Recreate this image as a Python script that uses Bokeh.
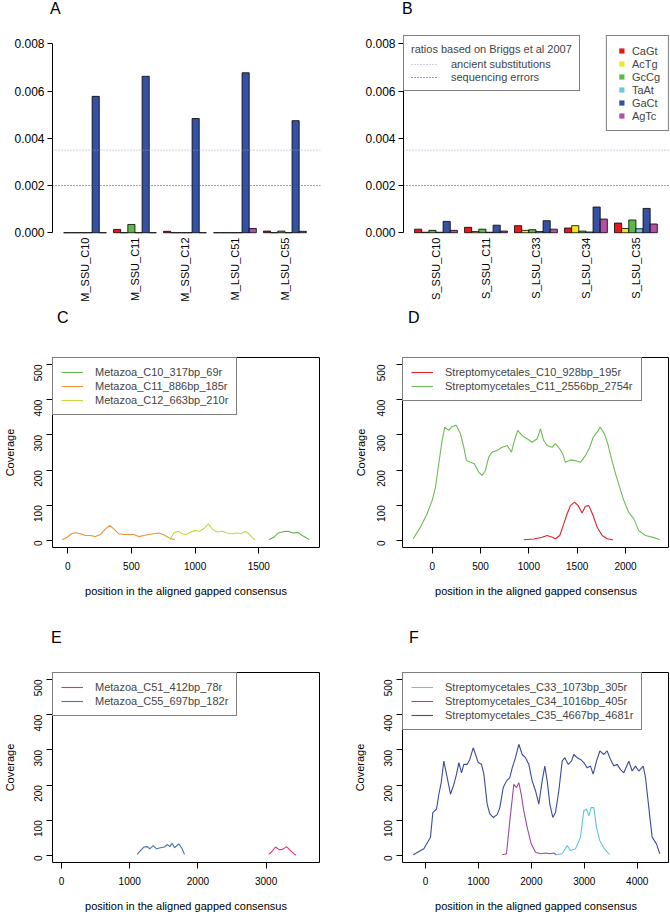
import math
from bokeh.plotting import figure
from bokeh.models import Range1d, FixedTicker, PrintfTickFormatter, Span, Legend, LegendItem, Div
from bokeh.layouts import column, row
from bokeh.embed import file_html
from bokeh.resources import INLINE

FONT = "Liberation Sans"
NAN = float("nan")

# ---------------- data ----------------
subst_types = ["CaGt", "AcTg", "GcCg", "TaAt", "GaCt", "AgTc"]
subst_colors = ["#e41a1c", "#f0e81c", "#5cb848", "#6cc9dc", "#3451a3", "#b24fa8"]

threshold_labels = ["ancient substitutions", "sequencing errors"]
threshold_values = [0.0035, 0.002]
threshold_colors = ["#9aa2c0", "#444444"]
legend_title_b = "ratios based on Briggs et al 2007"

a_samples = ["M_SSU_C10", "M_SSU_C11", "M_SSU_C12", "M_LSU_C51", "M_LSU_C55"]
a_CaGt = [0.0, 0.00014, 0.00006, 0.0, 0.00007]
a_AcTg = [0.0, 0.0, 0.0, 0.0, 0.0]
a_GcCg = [0.0, 0.00035, 0.0, 0.0, 0.00007]
a_TaAt = [0.0, 0.0, 0.0, 0.0, 0.0]
a_GaCt = [0.00578, 0.00663, 0.00484, 0.00678, 0.00475]
a_AgTc = [0.0, 0.0, 0.0, 0.00018, 0.00006]

b_samples = ["S_SSU_C10", "S_SSU_C11", "S_LSU_C33", "S_LSU_C34", "S_LSU_C35"]
b_CaGt = [0.00015, 0.00023, 0.00030, 0.00020, 0.00041]
b_AcTg = [0.00002, 0.00005, 0.00010, 0.00030, 0.00018]
b_GcCg = [0.00010, 0.00015, 0.00013, 0.00007, 0.00054]
b_TaAt = [0.00002, 0.00002, 0.00005, 0.00003, 0.00017]
b_GaCt = [0.00048, 0.00032, 0.00051, 0.00109, 0.00103]
b_AgTc = [0.00010, 0.00007, 0.00015, 0.00058, 0.00037]

# panel C
c_labels = ["Metazoa_C10_317bp_69r", "Metazoa_C11_886bp_185r", "Metazoa_C12_663bp_210r"]
c_colors = ["#62b44c", "#ef9232", "#c9d53e"]
c10_x = [1579, 1618, 1652, 1692, 1731, 1770, 1809, 1841, 1872, 1898]
c10_y = [2, 9, 21, 25, 26, 21, 23, 14, 8, 2]
c11_x = [-44, -5, 29, 60, 100, 139, 178, 218, 257, 296, 330, 361, 401, 440, 479, 518,
         558, 597, 636, 675, 715, 754, 793, 840]
c11_y = [2, 9, 19, 22, 19, 14, 14, 11, 17, 33, 43, 33, 19, 17, 17, 17, 11, 14, 17, 19,
         21, 16, 8, 2]
c12_x = [805, 814, 833, 867, 898, 930, 964, 998, 1034, 1068, 1103, 1134, 1173, 1213, 1252,
         1291, 1330, 1364, 1396, 1422, 1448, 1469]
c12_y = [2, 9, 21, 26, 19, 17, 24, 28, 26, 33, 47, 33, 24, 26, 21, 19, 21, 19, 26, 19, 9, 2]

# panel D
d_labels = ["Streptomycetales_C10_928bp_195r", "Streptomycetales_C11_2556bp_2754r"]
d_colors = ["#e0202c", "#6cbd52"]
d10_x = [947, 1051, 1138, 1189, 1241, 1275, 1320, 1361, 1396, 1430, 1472, 1510, 1551, 1585,
         1620, 1665, 1706, 1758, 1810, 1872]
d10_y = [2, 4, 9, 14, 9, 5, 14, 47, 76, 99, 109, 99, 78, 97, 99, 71, 38, 14, 5, 2]
d11_x = [-196, -121, -52, 0, 34, 68, 103, 130, 172, 207, 251, 293, 327, 355, 396, 437, 482,
         517, 551, 585, 620, 672, 724, 776, 820, 851, 885, 931, 982, 1034, 1086, 1120, 1154,
         1189, 1241, 1275, 1320, 1351, 1378, 1430, 1482, 1534, 1585, 1630, 1665, 1706, 1740,
         1782, 1816, 1851, 1896, 1940, 1982, 2033, 2085, 2137, 2206, 2292, 2354]
d11_y = [5, 38, 76, 114, 151, 218, 284, 322, 313, 324, 327, 303, 265, 227, 222, 218, 194,
         185, 199, 237, 251, 256, 265, 270, 251, 284, 313, 298, 289, 279, 289, 317, 284,
         270, 265, 275, 260, 246, 222, 229, 227, 222, 241, 265, 293, 308, 322, 303, 275,
         237, 190, 151, 114, 80, 62, 28, 14, 8, 3]

# panel E
e_labels = ["Metazoa_C51_412bp_78r", "Metazoa_C55_697bp_182r"]
e_colors = ["#e0307f", "#4a72b0"]
e51_x = [3040, 3089, 3138, 3196, 3250, 3299, 3358, 3406, 3441]
e51_y = [3, 12, 24, 16, 18, 25, 14, 5, 1]
e55_x = [1110, 1158, 1207, 1256, 1295, 1344, 1393, 1452, 1510, 1549, 1589, 1623, 1657,
         1720, 1769, 1803]
e55_y = [3, 14, 24, 25, 19, 28, 19, 22, 24, 31, 25, 35, 22, 33, 19, 3]

# panel F
f_labels = ["Streptomycetales_C33_1073bp_305r", "Streptomycetales_C34_1016bp_405r",
            "Streptomycetales_C35_4667bp_4681r"]
f_colors = ["#5ec8d8", "#9a4a9e", "#3c4a9c"]
f33_x = [2469, 2582, 2677, 2739, 2834, 2928, 2991, 3042, 3086, 3130, 3180, 3231, 3294,
         3382, 3482]
f33_y = [2, 5, 28, 14, 19, 52, 127, 132, 113, 136, 136, 80, 42, 19, 2]
f34_x = [1449, 1530, 1593, 1638, 1668, 1719, 1763, 1808, 1857, 1921, 1997, 2078, 2173,
         2267, 2349, 2424, 2469]
f34_y = [2, 5, 99, 160, 202, 193, 207, 174, 127, 80, 33, 9, 5, 7, 5, 7, 2]
f35_x = [-232, -32, 94, 138, 208, 252, 296, 346, 410, 472, 535, 586, 630, 680, 724, 788,
         837, 901, 945, 995, 1058, 1102, 1165, 1215, 1279, 1355, 1404, 1468, 1530, 1593,
         1638, 1700, 1763, 1827, 1889, 1952, 2015, 2078, 2141, 2204, 2254, 2299, 2349,
         2405, 2456, 2519, 2582, 2632, 2696, 2758, 2802, 2866, 2928, 2991, 3055, 3117,
         3168, 3231, 3294, 3369, 3432, 3495, 3558, 3621, 3684, 3747, 3841, 3905, 3968,
         4030, 4113, 4157, 4219, 4282, 4364, 4427]
f35_y = [2, 19, 52, 122, 132, 174, 207, 268, 221, 174, 202, 231, 264, 235, 259, 259, 273,
         306, 287, 264, 259, 231, 146, 118, 108, 116, 136, 193, 212, 221, 249, 278, 316,
         287, 278, 259, 212, 184, 146, 212, 254, 212, 146, 108, 122, 184, 268, 278, 259,
         268, 287, 278, 273, 264, 249, 254, 231, 268, 297, 287, 297, 273, 254, 259, 244,
         235, 268, 240, 254, 240, 254, 221, 136, 52, 33, 5]

ratio_ticks = [0.0, 0.002, 0.004, 0.006, 0.008]
coverage_ticks = [0, 100, 200, 300, 400, 500]
x_label = "position in the aligned gapped consensus"
y_label = "Coverage"
panel_letters = ["A", "B", "C", "D", "E", "F"]


def letter_div(letter, width, height, left, top):
    html = ('<div style="margin:0; padding:0; position:relative; left:%dpx; top:%dpx; '
            'font-family:\'%s\'; font-size:16px; line-height:18px; color:black;">%s</div>'
            % (left, top, FONT, letter))
    return Div(text=html, width=width, height=height, margin=0)


def bar_panel(samples, series, lb, fw, rb):
    px_per_unit = 7.14
    x0 = -0.55
    p = figure(frame_width=fw, frame_height=201,
               x_range=Range1d(x0, x0 + fw / px_per_unit),
               y_range=Range1d(-0.00016, 0.00836),
               output_backend="svg", toolbar_location=None,
               min_border_left=lb, min_border_right=rb,
               min_border_top=15, min_border_bottom=70)
    p.outline_line_color = None
    p.grid.visible = False
    n = len(samples)
    gw = len(series) + 1
    for v, c in zip(threshold_values, threshold_colors):
        p.add_layout(Span(location=v, dimension="width", line_color=c,
                          line_dash="1 2", line_width=1))
    for s, (vals, col) in enumerate(zip(series, subst_colors)):
        xs = [1 + gw * g + s + 0.5 for g in range(n)]
        p.vbar(x=xs, top=vals, bottom=0, width=1, fill_color=col,
               line_color="black", line_width=0.8)
    centers = [1 + gw * g + len(series) / 2 for g in range(n)]
    p.xaxis.ticker = FixedTicker(ticks=centers)
    p.xaxis.major_label_overrides = {c: s for c, s in zip(centers, samples)}
    p.xaxis.major_label_orientation = math.pi / 2
    p.xaxis.axis_line_color = None
    p.xaxis.major_tick_line_color = None
    p.xaxis.major_tick_out = 0
    p.xaxis.major_tick_in = 0
    p.xaxis.minor_tick_line_color = None
    p.xaxis.major_label_standoff = 1
    p.xaxis.major_label_text_font = FONT
    p.xaxis.major_label_text_font_size = "11px"
    p.xaxis.major_label_text_color = "black"
    p.yaxis.ticker = FixedTicker(ticks=ratio_ticks)
    p.yaxis.formatter = PrintfTickFormatter(format="%.3f")
    p.yaxis.bounds = (0, 0.008)
    p.yaxis.major_tick_out = 5
    p.yaxis.major_tick_in = 0
    p.yaxis.minor_tick_line_color = None
    p.yaxis.major_label_standoff = 3
    p.yaxis.major_label_text_font = FONT
    p.yaxis.major_label_text_font_size = "12px"
    p.yaxis.major_label_text_color = "black"
    p.background_fill_color = "white"
    p.border_fill_color = "white"
    return p


def cov_panel(xs, ys, labels, colors, xr, xticks, lb, fw, rb, tb, bb,
              tick_standoff, label_standoff):
    p = figure(frame_width=fw, frame_height=190,
               x_range=Range1d(*xr), y_range=Range1d(-20, 520),
               output_backend="svg", toolbar_location=None,
               min_border_left=lb, min_border_right=rb,
               min_border_top=tb, min_border_bottom=bb)
    p.outline_line_color = "black"
    p.outline_line_width = 1
    p.grid.visible = False
    rends = []
    for x, y, c in zip(xs, ys, colors):
        rends.append(p.line(x, y, line_color=c, line_width=1.1))
    for ax in (p.xaxis, p.yaxis):
        ax.axis_line_color = None
        ax.major_tick_out = 6
        ax.major_tick_in = 0
        ax.minor_tick_line_color = None
        ax.major_label_text_font = FONT
        ax.major_label_text_font_size = "10px"
        ax.major_label_text_color = "black"
        ax.axis_label_text_font = FONT
        ax.axis_label_text_font_size = "11px"
        ax.axis_label_text_font_style = "normal"
        ax.axis_label_text_color = "black"
    p.xaxis.ticker = FixedTicker(ticks=xticks)
    p.yaxis.ticker = FixedTicker(ticks=coverage_ticks)
    p.yaxis.major_label_orientation = math.pi / 2
    p.xaxis.major_label_standoff = 8
    p.yaxis.major_label_standoff = tick_standoff
    p.xaxis.axis_label = x_label
    p.yaxis.axis_label = y_label
    p.xaxis.axis_label_standoff = 12
    p.yaxis.axis_label_standoff = label_standoff
    leg = Legend(items=[LegendItem(label=l, renderers=[r]) for l, r in zip(labels, rends)],
                 location="top_left", margin=0, padding=8, spacing=2,
                 label_height=12, glyph_height=12, glyph_width=22, label_standoff=12,
                 label_text_font=FONT, label_text_font_size="11px",
                 border_line_color="black", border_line_width=1,
                 background_fill_color="white", background_fill_alpha=1)
    p.add_layout(leg)
    p.background_fill_color = "white"
    p.border_fill_color = "white"
    return p


# ---------------- panels ----------------
pA = bar_panel(a_samples, [a_CaGt, a_AcTg, a_GcCg, a_TaAt, a_GaCt, a_AgTc], 52, 268, 15)
pB = bar_panel(b_samples, [b_CaGt, b_AcTg, b_GcCg, b_TaAt, b_GaCt, b_AgTc], 68, 266, 0)

thr_rends = [pB.line([NAN], [NAN], line_color=c, line_dash="1 2", line_width=1)
             for c in threshold_colors]
leg1 = Legend(items=[LegendItem(label=l, renderers=[r]) for l, r in zip(threshold_labels, thr_rends)],
              title=legend_title_b, title_text_font=FONT, title_text_font_size="11px",
              title_text_font_style="normal", title_standoff=3,
              location="top_left", margin=0, padding=7, spacing=1,
              label_height=12, glyph_height=12, glyph_width=26, label_standoff=14,
              label_text_font=FONT, label_text_font_size="11px",
              border_line_color="black", border_line_width=1,
              background_fill_color="white", background_fill_alpha=1)
pB.add_layout(leg1)
sq_rends = [pB.scatter([NAN], [NAN], marker="square", fill_color=c, line_color=None, size=6)
            for c in subst_colors]
leg2 = Legend(items=[LegendItem(label=l, renderers=[r]) for l, r in zip(subst_types, sq_rends)],
              location="top_right", margin=0, padding=8, spacing=0,
              label_height=13, glyph_height=13, glyph_width=13, label_standoff=4,
              label_text_font=FONT, label_text_font_size="11px",
              border_line_color="black", border_line_width=1,
              background_fill_color="white", background_fill_alpha=1)
pB.add_layout(leg2)

pC = cov_panel([c10_x, c11_x, c12_x], [c10_y, c11_y, c12_y], c_labels, c_colors,
               (-120, 1977), [0, 500, 1000, 1500], 52, 267, 16, 26, 63, 8, 12)
pD = cov_panel([d10_x, d11_x], [d10_y, d11_y], d_labels, d_colors,
               (-307, 2455), [0, 500, 1000, 1500, 2000], 67, 267, 0, 26, 63, 15, 4)
pE = cov_panel([e51_x, e55_x], [e51_y, e55_y], e_labels, e_colors,
               (-132, 3783), [0, 1000, 2000, 3000], 52, 267, 16, 22, 52, 8, 12)
pF = cov_panel([f33_x, f34_x, f35_x], [f33_y, f34_y, f35_y], f_labels, f_colors,
               (-435, 4610), [0, 1000, 2000, 3000, 4000], 67, 267, 0, 22, 52, 8, 12)

lab1 = row(letter_div(panel_letters[0], 335, 20, 50, 0),
           letter_div(panel_letters[1], 334, 20, 67, 0))
lab2 = row(letter_div(panel_letters[2], 335, 25, 57, 3),
           letter_div(panel_letters[3], 334, 25, 73, 3))
lab3 = row(letter_div(panel_letters[4], 335, 40, 51, 19),
           letter_div(panel_letters[5], 334, 40, 74, 19))

layout = column(lab1, row(pA, pB), lab2, row(pC, pD), lab3, row(pE, pF))
open("out.html", "w").write(file_html(layout, INLINE))
